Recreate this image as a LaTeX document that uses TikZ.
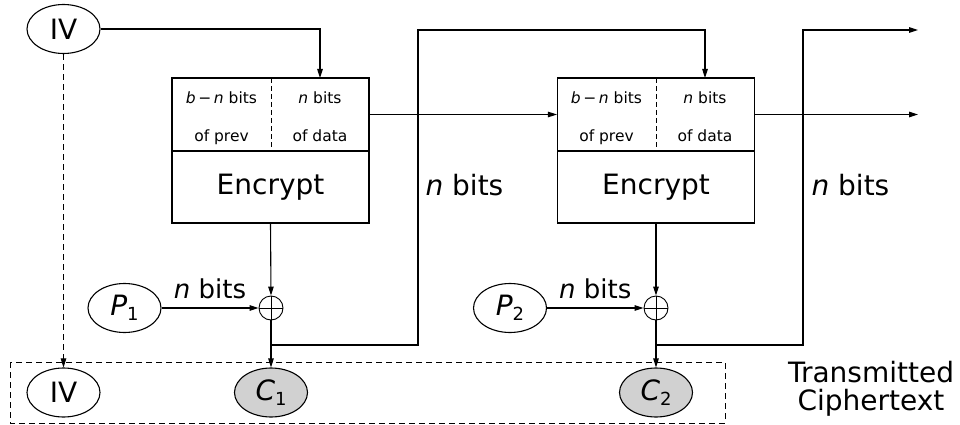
\documentclass[tikz,border=0pt]{standalone}
\usepackage{fontspec}
\setmainfont{DejaVu Sans}
\usetikzlibrary{arrows.meta,shapes.geometric}
\newcommand{\mysub}[1]{\raisebox{-5.5pt}{\fontsize{18}{18}\selectfont #1}}
\begin{document}
\begin{tikzpicture}[x=1pt,y=-1pt,
  line width=1.1pt,
  arr/.style={-{Triangle[length=9pt,width=5.5pt]}},
  dsh/.style={dash pattern=on 6pt off 4pt},
  oval/.style={ellipse,draw,minimum width=73pt,minimum height=49pt,inner sep=0pt,font=\fontsize{28}{30}\selectfont},
  ct/.style={oval,fill=black!18},
  half/.style={draw,minimum width=197pt,minimum height=73pt,inner sep=0pt},
  encbox/.style={draw,minimum width=197pt,minimum height=72pt,inner sep=0pt,font=\fontsize{28}{30}\selectfont},
  small/.style={inner sep=0pt,anchor=base,font=\fontsize{15.5}{17}\selectfont},
  big/.style={inner sep=0pt,font=\fontsize{28}{28.3}\selectfont},
  mid/.style={inner sep=0pt,font=\fontsize{26}{28}\selectfont},
  xorn/.style={circle,draw,minimum size=24pt,inner sep=0pt,line width=0.9pt}
]
\useasboundingbox (0,0) rectangle (960,425);

% dashed transmitted box
\draw[dsh,line width=0.9pt] (10,362) rectangle (725,423);

% nodes
\node[oval] (iv) at (63.5,29) {IV};
\node[oval] (ivb) at (63.5,392.5) {IV};
\node[half] (top1) at (270.5,114.5) {};
\node[encbox] (enc1) at (270.5,187) {Encrypt};
\node[half] (top2) at (656,114.5) {};
\node[encbox] (enc2) at (656,187) {Encrypt};
\node[oval] (p1) at (124.5,308) {\textit{P}\mysub{1}};
\node[oval] (p2) at (510,308) {\textit{P}\mysub{2}};
\node[xorn] (x1) at (271,308) {};
\node[xorn] (x2) at (656,308) {};
\node[ct] (c1) at (271,392.5) {\textit{C}\mysub{1}};
\node[ct] (c2) at (656,392.5) {\textit{C}\mysub{2}};

% xor crosses
\draw[line width=0.9pt] (x1.north) -- (x1.south) (x1.west) -- (x1.east);
\draw[line width=0.9pt] (x2.north) -- (x2.south) (x2.west) -- (x2.east);

% dividers
\draw[dash pattern=on 5pt off 3pt,line width=0.9pt] (271,78) -- (271,151);
\draw[dash pattern=on 5pt off 3pt,line width=0.9pt] (656,78) -- (656,151);

% small texts
\node[small] (t1a) at (221.5,104) {\textit{b}\,−\,\textit{n} bits};
\node[small] (t1b) at (221.5,141.5) {of prev};
\node[small] (t1c) at (320,104) {\textit{n} bits};
\node[small] (t1d) at (320,141.5) {of data};
\node[small] (t2a) at (606.5,104) {\textit{b}\,−\,\textit{n} bits};
\node[small] (t2b) at (606.5,141.5) {of prev};
\node[small] (t2c) at (705,104) {\textit{n} bits};
\node[small] (t2d) at (705,141.5) {of data};

% coordinates
\coordinate (in1) at (320,78);
\coordinate (in2) at (705,78);
\coordinate (j1) at (271,345);
\coordinate (j2) at (656,345);
\coordinate (f1b) at (418,345);
\coordinate (f1t) at (418,30);
\coordinate (f2b) at (803,345);
\coordinate (f2t) at (803,30);
\coordinate (out1) at (918,30);
\coordinate (out2) at (918,114.5);

% connectors
\draw[arr] (iv.east) -| (in1);
\draw[arr] (top1.east) -- (top2.west);
\draw[arr] (top2.east) -- (out2);
\draw[arr] (enc1.south) -- (x1.north);
\draw[arr] (enc2.south) -- (x2.north);
\draw[arr] (p1.east) -- node[mid,midway,above,yshift=9pt] (l1) {\textit{n} bits} (x1.west);
\draw[arr] (p2.east) -- node[mid,midway,above,yshift=9pt] (l2) {\textit{n} bits} (x2.west);
\draw[arr] (x1.south) -- (c1.north);
\draw[arr] (x2.south) -- (c2.north);
\draw[arr] (j1) -- (f1b) -- (f1t) -| (in2);
\draw[arr] (j2) -- (f2b) -- (f2t) -- (out1);
\draw[arr,dsh,line width=0.9pt] (iv.south) -- (ivb.north);

% big labels
\node[big,anchor=base west] (nb1) at (425,195) {\textit{n} bits};
\node[big,anchor=base west] (nb2) at (811,195) {\textit{n} bits};
\node[big,align=center] (tc) at (871,388.7) {Transmitted\\Ciphertext};
\end{tikzpicture}
\end{document}
